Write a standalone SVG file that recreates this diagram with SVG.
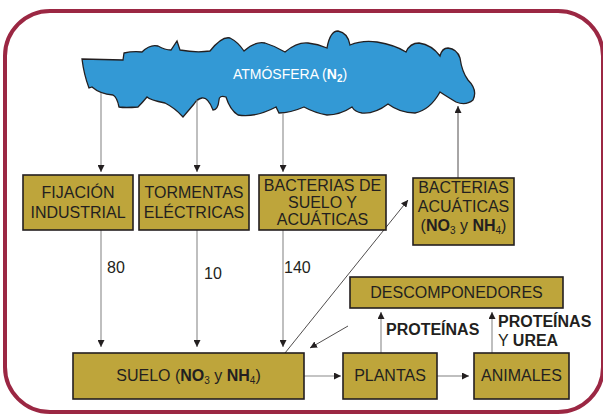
<svg xmlns="http://www.w3.org/2000/svg" width="603" height="415" viewBox="0 0 603 415">
<style>
.box{fill:#bea53b;stroke:#231f20;stroke-width:1.6}
.t{font-family:"Liberation Sans",Arial,sans-serif;font-size:16px;fill:#231f20;text-anchor:middle}
.n{font-family:"Liberation Sans",Arial,sans-serif;font-size:16px;fill:#231f20}
.b{font-weight:bold}
.g{stroke:#8a8a8a;stroke-width:1.1;fill:none}
.d{stroke:#231f20;stroke-width:0.8;fill:none}
</style>
<defs>
<marker id="ah" viewBox="0 0 10 10" refX="10" refY="5" markerWidth="7" markerHeight="7" orient="auto" markerUnits="userSpaceOnUse"><path d="M0,0 L10,5 L0,10 z" fill="#231f20"/></marker>
</defs>
<rect x="5" y="11" width="598" height="401" rx="45" fill="none" stroke="#9b2743" stroke-width="4"/>
<g id="atmosfera">
<path d="M82,59 L123,60 L124,53 Q133,51 142,52 Q150,44 158,46 Q165,50 171,50 L177,41 L180,50 Q196,53 210,51 Q222,36 230,38 Q238,42 244,51 Q255,41 265,43 Q275,46 285,52 Q297,42 308,43 Q318,44 327,48 Q330,31 338,31 Q348,33 350,45 Q362,40 377,42 Q395,45 406,52 Q410,43 419,43 Q432,45 440,56 Q442,48 448,48 Q457,49 460,58 Q462,72 468,80 Q478,90 473,100 Q466,106 456,102 Q446,96 440,92 Q430,110 415,113 Q400,113 388,104 Q375,114 362,113 Q355,112 352,107 Q340,115 327,115 Q315,113 304,107 Q290,113 279,113 L276,107 Q255,118 238,115 Q230,110 226,97 Q219,95 219,100 Q218,110 213,110 Q208,97 202,98 Q197,99 194,104 L183,117 Q175,108 165,103 Q150,100 147,97 Q142,103 138,107 Q125,108 119,107 Q117,97 113,95 Q100,94 92,87 L89,88 Q84,75 82,59 Z" fill="#3399d5" stroke="#231f20" stroke-width="1.3"/>
<text x="290" y="79" font-family="Liberation Sans,Arial,sans-serif" font-size="14" fill="#ffffff" text-anchor="middle">ATMÓSFERA (<tspan font-weight="bold">N</tspan><tspan font-weight="bold" font-size="10" dy="3">2</tspan><tspan dy="-3">)</tspan></text>
</g>
<g id="connectors">
<line class="g" x1="101" y1="93" x2="101" y2="172" marker-end="url(#ah)"/>
<line class="g" x1="197" y1="100" x2="197" y2="172" marker-end="url(#ah)"/>
<line class="g" x1="283" y1="113" x2="283" y2="172" marker-end="url(#ah)"/>
<line class="g" x1="101" y1="230" x2="101" y2="347" marker-end="url(#ah)"/>
<line class="g" x1="197" y1="230" x2="197" y2="347" marker-end="url(#ah)"/>
<line class="g" x1="283" y1="230" x2="283" y2="347" marker-end="url(#ah)"/>
<line class="d" x1="458" y1="178" x2="458" y2="106" marker-end="url(#ah)"/>
<line class="d" x1="285" y1="353" x2="408" y2="200" marker-end="url(#ah)"/>
<line class="d" x1="348" y1="326" x2="310" y2="348" marker-end="url(#ah)"/>
<line class="g" x1="304" y1="376" x2="341" y2="376" marker-end="url(#ah)"/>
<line class="g" x1="437" y1="376" x2="469" y2="376" marker-end="url(#ah)"/>
<line class="g" x1="381" y1="353" x2="381" y2="312" marker-end="url(#ah)"/>
<line class="g" x1="492" y1="353" x2="492" y2="312" marker-end="url(#ah)"/>
<text class="n" x="107" y="273">80</text>
<text class="n" x="204" y="279">10</text>
<text class="n" x="284" y="273">140</text>
<text class="n b" x="386" y="335">PROTEÍNAS</text>
<text class="n b" x="498" y="327">PROTEÍNAS</text>
<text class="n" x="498" y="346">Y <tspan class="b">UREA</tspan></text>
</g>
<g id="fijacion">
<rect class="box" x="23" y="175" width="110" height="55"/>
<text class="t" x="78" y="198">FIJACIÓN</text>
<text class="t" x="78" y="218">INDUSTRIAL</text>
</g>
<g id="tormentas">
<rect class="box" x="139" y="175" width="110" height="55"/>
<text class="t" x="194" y="198">TORMENTAS</text>
<text class="t" x="194" y="218">ELÉCTRICAS</text>
</g>
<g id="bacterias-suelo">
<rect class="box" x="259" y="175" width="127" height="55"/>
<text class="t" x="322.5" y="191">BACTERIAS DE</text>
<text class="t" x="322.5" y="208">SUELO Y</text>
<text class="t" x="322.5" y="225">ACUÁTICAS</text>
</g>
<g id="bacterias-acuaticas">
<rect class="box" x="413" y="178" width="101" height="67"/>
<text class="t" x="463.5" y="193">BACTERIAS</text>
<text class="t" x="463.5" y="212">ACUÁTICAS</text>
<text class="t" x="463.5" y="231">(<tspan class="b">NO</tspan><tspan font-size="10" dy="3">3</tspan><tspan dy="-3"> y </tspan><tspan class="b">NH</tspan><tspan font-size="10" dy="3">4</tspan><tspan dy="-3">)</tspan></text>
</g>
<g id="descomponedores">
<rect class="box" x="350" y="277" width="213" height="31"/>
<text class="t" x="456.5" y="298">DESCOMPONEDORES</text>
</g>
<g id="suelo">
<rect class="box" x="73" y="353" width="231" height="46"/>
<text class="t" x="188.5" y="381">SUELO (<tspan class="b">NO</tspan><tspan font-size="10" dy="3">3</tspan><tspan dy="-3"> y </tspan><tspan class="b">NH</tspan><tspan font-size="10" dy="3">4</tspan><tspan dy="-3">)</tspan></text>
</g>
<g id="plantas">
<rect class="box" x="343" y="353" width="94" height="46"/>
<text class="t" x="390" y="381">PLANTAS</text>
</g>
<g id="animales">
<rect class="box" x="474" y="353" width="95" height="46"/>
<text class="t" x="521.5" y="381">ANIMALES</text>
</g>
</svg>
